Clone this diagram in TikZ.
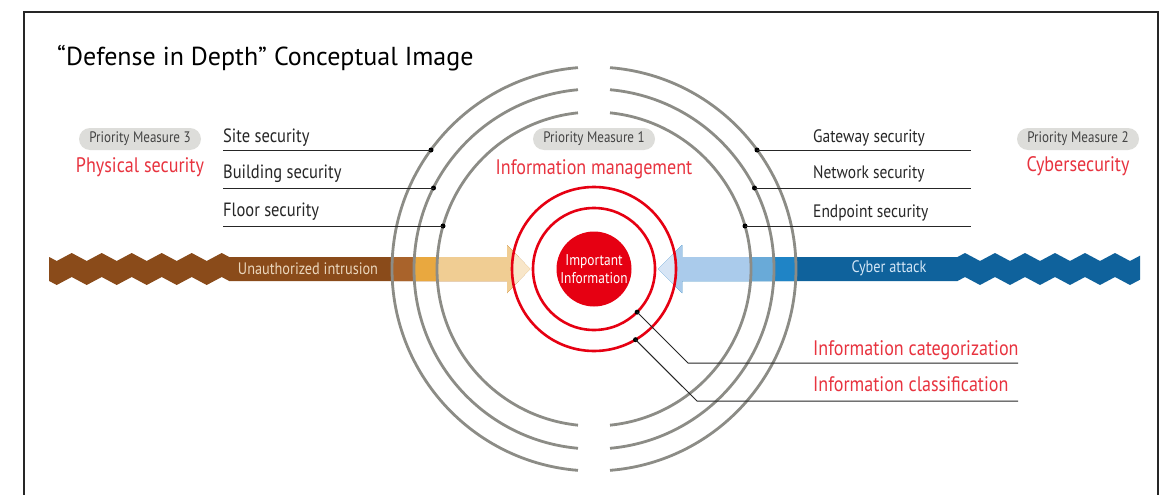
\documentclass[tikz,border=0pt]{standalone}
\usepackage{fontspec}
\setmainfont[FakeStretch=0.86]{PT Sans}
\newfontfamily\titlefont{PT Sans}
\definecolor{arcgray}{HTML}{8C8C86}
\definecolor{fred}{HTML}{E60012}
\definecolor{lred}{HTML}{E8333F}
\definecolor{pill}{HTML}{DDDDDA}
\definecolor{pilltext}{HTML}{444444}
\definecolor{brA}{HTML}{8A4B1A}
\definecolor{brB}{HTML}{A9632B}
\definecolor{brC}{HTML}{E9A83F}
\definecolor{brD}{HTML}{F0CD93}
\definecolor{brE}{HTML}{F8E6C9}
\definecolor{blA}{HTML}{0F629C}
\definecolor{blB}{HTML}{1F84C6}
\definecolor{blC}{HTML}{69AAD8}
\definecolor{blD}{HTML}{AACBEB}
\definecolor{blE}{HTML}{D7E5F5}
\definecolor{intrtext}{HTML}{EAD6BC}
\definecolor{cybtext}{HTML}{D3E6F6}
\tikzset{
  grayarc/.style={draw=arcgray, line width=2.8pt},
  redring/.style={draw=fred, line width=2.6pt},
  leader/.style={draw=black!85, line width=1pt},
  dotmark/.style={fill=black, circle, inner sep=0pt, minimum size=5pt},
  pillbox/.style={fill=pill, rounded corners=11pt, minimum width=122pt, minimum height=22pt, inner sep=0pt, text=pilltext, font=\fontsize{15.2}{17}\selectfont},
  blacklabel/.style={anchor=base west, inner sep=0pt, font=\fontsize{18}{20}\selectfont, text=black!85},
  blacklabelL/.style={blacklabel, font=\fontsize{19.2}{21}\selectfont},
  redlabel/.style={inner sep=0pt, font=\fontsize{21}{24}\selectfont, text=lred},
  arrowtext/.style={inner sep=0pt, font=\fontsize{16.6}{19}\selectfont}
}
\newcommand{\brownpath}{(49.2,257) \foreach \i in {0,...,5} { -- (56.7+30*\i,261) -- (71.7+30*\i,253) } -- (229.2,257) -- (507,257) -- (507,245) -- (530,269) -- (507,293) -- (507,281) -- (229.2,281) \foreach \i in {5,4,3,2,1,0} { -- (71.7+30*\i,277) -- (56.7+30*\i,285) } -- (49.2,281) -- cycle}
\newcommand{\bluepath}{(658,269) -- (682,245) -- (682,257) -- (957.5,257) \foreach \i in {0,...,5} { -- (965+30*\i,253) -- (980+30*\i,261) } -- (1140,255.7) -- (1140,279.7) \foreach \i in {5,4,3,2,1,0} { -- (980+30*\i,285) -- (965+30*\i,277) } -- (957.5,281) -- (682,281) -- (682,293) -- cycle}
\begin{document}
\begin{tikzpicture}[x=1pt,y=-1pt]
\useasboundingbox (0,0) rectangle (1173,495);
\fill[white] (0,0) rectangle (1173,495);
% frame
\draw[line width=1.2pt, black!85] (24,495) -- (24,12) -- (1158,12) -- (1158,495);
% title
\node[anchor=base west, inner sep=0pt, font=\titlefont\fontsize{26}{30}\selectfont] (title) at (57,66) {“Defense in Depth” Conceptual Image};
\coordinate (c) at (594,269);
% arrows with layered colours
\fill[brA] \brownpath;
\begin{scope}\clip (c) circle[radius=202]; \fill[brB] \brownpath; \end{scope}
\begin{scope}\clip (c) circle[radius=180]; \fill[brC] \brownpath; \end{scope}
\begin{scope}\clip (c) circle[radius=157]; \fill[brD] \brownpath; \end{scope}
\begin{scope}\clip (c) circle[radius=82]; \fill[brE] \brownpath; \end{scope}
\fill[blA] \bluepath;
\begin{scope}\clip (c) circle[radius=202]; \fill[blB] \bluepath; \end{scope}
\begin{scope}\clip (c) circle[radius=180]; \fill[blC] \bluepath; \end{scope}
\begin{scope}\clip (c) circle[radius=157]; \fill[blD] \bluepath; \end{scope}
\begin{scope}\clip (c) circle[radius=82]; \fill[blE] \bluepath; \end{scope}
\node[arrowtext, text=intrtext] (intr) at (308,269) {Unauthorized intrusion};
\node[arrowtext, text=cybtext] (cyb) at (889,268) {Cyber attack};
% gray arcs with gaps at top and bottom
\foreach \r/\d in {202/4.55, 180/5.1, 157/5.85} {
  \draw[grayarc] (c) ++(90+\d:\r) arc[start angle=90+\d, end angle=270-\d, radius=\r];
  \draw[grayarc] (c) ++(-90+\d:\r) arc[start angle=-90+\d, end angle=90-\d, radius=\r];
}
% red rings
\draw[redring] (c) circle[radius=82];
\draw[redring] (c) circle[radius=61];
\node[circle, fill=fred, minimum size=75pt, inner sep=0pt, align=center, text=white, font=\fontsize{15.6}{17.5}\selectfont] (core) at (c) {Important\\[0.5pt]Information};
% left labels
\node[pillbox] (pm3) at (140,139) {Priority Measure 3};
\node[redlabel] (phys) at (140,167) {Physical security};
\node[blacklabelL] (site) at (223,142) {Site security};
\node[blacklabelL] (bldg) at (223,178.5) {Building security};
\node[blacklabelL] (floor) at (223,216.5) {Floor security};
\node[dotmark] (d1) at (431,150) {};
\node[dotmark] (d2) at (433.5,188) {};
\node[dotmark] (d3) at (443,226) {};
\coordinate (l1) at (223,150);
\coordinate (l2) at (223,188);
\coordinate (l3) at (223,226);
\draw[leader] (l1) -- (d1.center);
\draw[leader] (l2) -- (d2.center);
\draw[leader] (l3) -- (d3.center);
% centre labels
\node[pillbox] (pm1) at (594,139) {Priority Measure 1};
\node[redlabel] (im) at (594,169) {Information management};
% right labels
\node[pillbox] (pm2) at (1078,139) {Priority Measure 2};
\node[redlabel] (cyber) at (1078,166) {Cybersecurity};
\node[blacklabel] (gate) at (813,142) {Gateway security};
\node[blacklabel] (net) at (813,178) {Network security};
\node[blacklabel] (endp) at (813,217) {Endpoint security};
\node[dotmark] (d4) at (757,150) {};
\node[dotmark] (d5) at (754.5,188) {};
\node[dotmark] (d6) at (745,226) {};
\coordinate (r1) at (971,150);
\coordinate (r2) at (971,188);
\coordinate (r3) at (971,226);
\draw[leader] (d4.center) -- (r1);
\draw[leader] (d5.center) -- (r2);
\draw[leader] (d6.center) -- (r3);
% information rings labels
\node[dotmark] (d7) at (637.1,312.1) {};
\node[dotmark] (d8) at (635.5,339.7) {};
\coordinate (k1) at (688,363);
\coordinate (k2) at (697,401);
\coordinate (e1) at (1018,363);
\coordinate (e2) at (1018,401);
\draw[leader] (d7.center) -- (k1) -- (e1);
\draw[leader] (d8.center) -- (k2) -- (e2);
\node[redlabel, anchor=base west] (cat) at (813,355) {Information categorization};
\node[redlabel, anchor=base west] (cls) at (813,391.5) {Information classification};
\end{tikzpicture}
\end{document}
